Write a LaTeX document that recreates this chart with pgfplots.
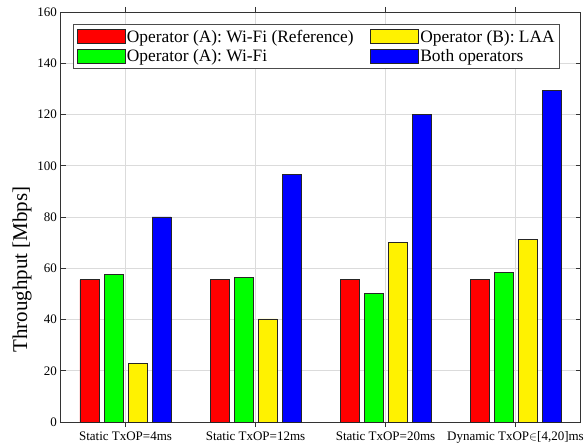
\documentclass[border=0pt]{standalone}
\usepackage{fontspec}
\setmainfont{Liberation Serif}
\usepackage{pgfplots}
\pgfplotsset{compat=1.18}
\begin{document}
\begin{tikzpicture}
\begin{axis}[
  scale only axis,
  width=520pt, height=410pt,
  xmin=0.5, xmax=4.5,
  ymin=0, ymax=160,
  ytick={0,20,...,160},
  xtick={1,2,3,4},
  xticklabels={{Static TxOP=4ms}, {Static TxOP=12ms}, {Static TxOP=20ms}, {Dynamic TxOP$\in$[4,20]ms}},
  /pgf/number format/assume math mode=true,
  tick label style={font=\fontsize{13}{15}\selectfont},
  xticklabel style={yshift=-1pt},
  ylabel={Throughput [Mbps]},
  ylabel style={at={(axis description cs:0,0.372)}, anchor=center, xshift=0pt, yshift=38.5pt, font=\fontsize{21}{24}\selectfont},
  grid=major,
  major grid style={gray!28, line width=0.5pt},
  axis line style={black!80, line width=0.6pt},
  tick style={black!80, line width=0.6pt},
  tick align=inside,
  major tick length=5pt,
  xtick pos=both, ytick pos=both,
  ybar, bar width=19pt,
  every axis plot/.append style={draw=black!85, line width=0.7pt},
  legend columns=2,
  transpose legend,
  legend image code/.code={\draw[#1, draw=black!85, line width=0.7pt] (0pt,-7pt) rectangle (48pt,7pt);},
  legend style={at={(axis description cs:0,1)}, anchor=north west, xshift=12.8pt, yshift=-12pt,
    font=\fontsize{17.4}{20}\selectfont, draw=black!70, line width=0.7pt,
    inner xsep=3pt, inner ysep=4pt, row sep=3pt,
    nodes={inner sep=1.5pt, anchor=west},
    /tikz/every even column/.append style={column sep=15pt},
    cells={anchor=west}},
]
\addplot[fill=red, bar shift=-36pt] coordinates {(1,55.5) (2,55.5) (3,55.5) (4,55.5)};
\addlegendentry{Operator (A): Wi-Fi (Reference)}
\addplot[fill=green, bar shift=-12pt] coordinates {(1,57.5) (2,56.3) (3,50.2) (4,58.3)};
\addlegendentry{Operator (A): Wi-Fi}
\addplot[fill=yellow, bar shift=12pt] coordinates {(1,22.7) (2,40.2) (3,70) (4,71.2)};
\addlegendentry{Operator (B): LAA}
\addplot[fill=blue, bar shift=36pt] coordinates {(1,80) (2,96.5) (3,120) (4,129.4)};
\addlegendentry{Both operators}
\end{axis}
\pgfresetboundingbox
\path[use as bounding box] ([shift={(-60.5pt,-21.3pt)}]current axis.south west) rectangle ([shift={(6.5pt,12pt)}]current axis.north east);
\end{tikzpicture}
\end{document}
